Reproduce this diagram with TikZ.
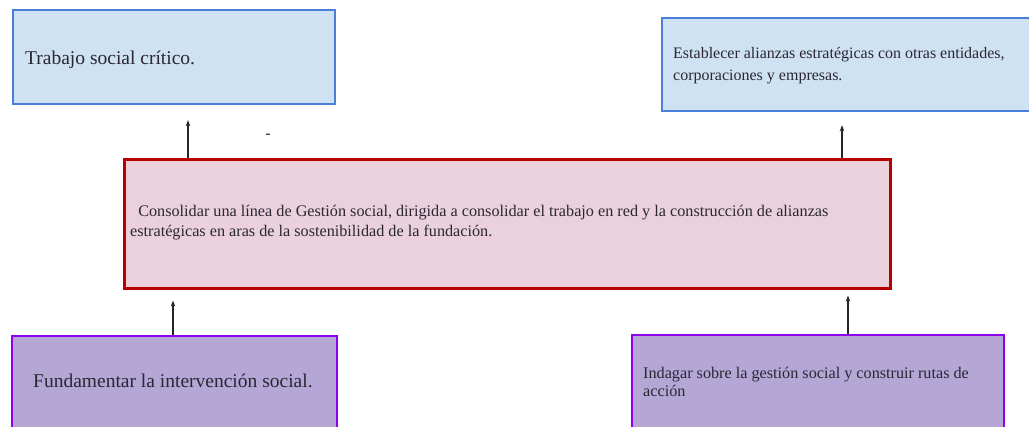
\documentclass[tikz,border=0pt]{standalone}
\usepackage{fontspec}
\setmainfont{Liberation Serif}
\usetikzlibrary{arrows.meta}
\definecolor{bluefill}{HTML}{CFE2F3}
\definecolor{blueline}{HTML}{4A80DC}
\definecolor{redfill}{HTML}{EAD1DC}
\definecolor{redline}{HTML}{B80000}
\definecolor{purplefill}{HTML}{B4A7D6}
\definecolor{purpleline}{HTML}{9000F0}
\definecolor{txtcol}{HTML}{2A2733}
\newcommand{\mylines}[2]{\vtop{\hbox{#1}\hbox{#2}}}
\tikzset{
  boxbase/.style={draw, rectangle, inner sep=0pt, anchor=north west},
  bluebox/.style={boxbase, fill=bluefill, draw=blueline, line width=2.2pt},
  redbox/.style={boxbase, fill=redfill, draw=redline, line width=2.6pt},
  purplebox/.style={boxbase, fill=purplefill, draw=purpleline, line width=2.2pt},
  bigtxt/.style={inner sep=0pt, anchor=base west, text=txtcol, font=\fontsize{19.5}{23}\selectfont},
  smalltxt/.style={inner sep=0pt, anchor=base west, text=txtcol},
  arr/.style={-{Stealth[length=6pt,width=4.5pt]}, line width=1.2pt, black!85}
}
\begin{document}
\begin{tikzpicture}[x=1pt,y=-1pt]
\useasboundingbox (0,0) rectangle (1029,427);
\clip (0,0) rectangle (1029,427);
\fill[white] (0,0) rectangle (1029,427);
% boxes
\node[bluebox, minimum width=322pt, minimum height=94pt] (tl) at (12,9) {};
\node[bluebox, minimum width=380pt, minimum height=93pt] (tr) at (661,17) {};
\node[redbox, minimum width=766pt, minimum height=129pt] (red) at (123,158) {};
\node[purplebox, minimum width=325pt, minimum height=110pt] (bl) at (11,335) {};
\node[purplebox, minimum width=372pt, minimum height=110pt] (br) at (631,334) {};
% texts
\node[bigtxt] (tltxt) at (25,65) {Trabajo social crítico.};
\node[smalltxt, font=\fontsize{16}{22}\selectfont] (trtxt) at (673,59)
  {\mylines{Establecer alianzas estratégicas con otras entidades,}{corporaciones y empresas.}};
\node[smalltxt, font=\fontsize{16.2}{20}\selectfont] (redtxt) at (130,217)
  {\mylines{\hspace*{0.5em}Consolidar una línea de Gestión social, dirigida a consolidar el trabajo en red y la construcción de alianzas}{estratégicas en aras de la sostenibilidad de la fundación.}};
\node[bigtxt] (bltxt) at (33,388) {Fundamentar la intervención social.};
\node[smalltxt, font=\fontsize{16.2}{18}\selectfont] (brtxt) at (643,379)
  {\mylines{Indagar sobre la gestión social y construir rutas de}{acción}};
\node[inner sep=0pt, text=txtcol, font=\fontsize{16}{18}\selectfont] (dash) at (268,136) {-};
% arrows
\draw[arr, shorten >=15pt] (red.north -| 188,0) -- (tl.south -| 188,0);
\draw[arr, shorten >=13pt] (red.north -| 842,0) -- (tr.south -| 842,0);
\draw[arr, shorten >=11pt] (bl.north -| 173,0) -- (red.south -| 173,0);
\draw[arr, shorten >=6pt] (br.north -| 848,0) -- (red.south -| 848,0);
\end{tikzpicture}
\end{document}
